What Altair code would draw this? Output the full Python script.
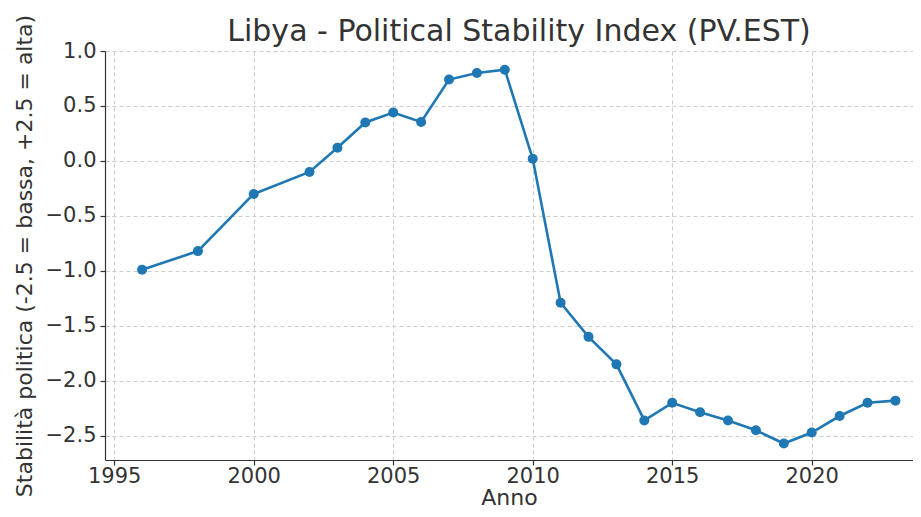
import altair as alt
import pandas as pd

years = [1996, 1998, 2000, 2002, 2003, 2004, 2005, 2006, 2007, 2008, 2009, 2010,
         2011, 2012, 2013, 2014, 2015, 2016, 2017, 2018, 2019, 2020, 2021, 2022, 2023]
values = [-0.99, -0.82, -0.30, -0.10, 0.12, 0.35, 0.44, 0.355, 0.74, 0.80, 0.83, 0.02,
          -1.29, -1.60, -1.85, -2.36, -2.20, -2.285, -2.36, -2.45, -2.57, -2.47, -2.32, -2.20, -2.18]
x_ticks = [1995, 2000, 2005, 2010, 2015, 2020]
y_ticks = [-2.5, -2.0, -1.5, -1.0, -0.5, 0.0, 0.5, 1.0]

df = pd.DataFrame({"Anno": years, "Valore": values})

FONT = "DejaVu Sans"

x = alt.X("Anno:Q",
          scale=alt.Scale(domain=[1994.67, 2023.63], nice=False, zero=False),
          axis=alt.Axis(values=x_ticks, format="d", title="Anno"))
y = alt.Y("Valore:Q",
          scale=alt.Scale(domain=[-2.72, 1.0], nice=False, zero=False),
          axis=alt.Axis(values=y_ticks, format=".1f",
                        title="Stabilità politica (-2.5 = bassa, +2.5 = alta)"))

line = alt.Chart(df).mark_line(color="#1f77b4", strokeWidth=2.6).encode(x=x, y=y)
pts = alt.Chart(df).mark_circle(color="#1f77b4", size=100, opacity=1).encode(x=x, y=y)

chart = (line + pts).properties(
    width=808, height=409,
    title=alt.TitleParams("Libya - Political Stability Index (PV.EST)",
                          fontSize=30, font=FONT, fontWeight="normal",
                          color="#333333", anchor="middle", frame="group",
                          offset=-33, dx=10),
    autosize=alt.AutoSizeParams(type="none"),
    padding={"left": 97, "top": 43, "right": 0, "bottom": 49},
).configure_view(stroke=None).configure_axis(
    labelFont=FONT, titleFont=FONT, labelFontSize=21, titleFontSize=22,
    labelColor="#333333", titleColor="#333333", titleFontWeight="normal",
    domainColor="#333333", tickColor="#333333", tickSize=5, tickWidth=1.2, domainWidth=1.2,
    gridColor="#cccccc", gridDash=[4, 3], gridWidth=1,
).configure_axisX(labelPadding=0, titlePadding=1).configure_axisY(labelPadding=4, titlePadding=9)

chart.save("out.html", embed_options={"renderer": "svg", "actions": False})
